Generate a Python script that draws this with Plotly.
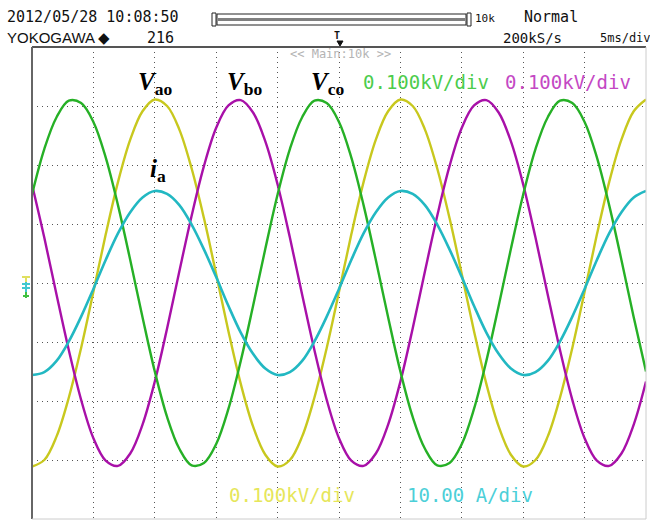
import plotly.graph_objects as go

# time axis (ms), 5 ms/div, 10 div
t_ms = list(range(0, 51))

# phase voltages (V), 0.100 kV/div
v_ao = [-311, -300, -260, -194, -110, -15, 82, 171, 243, 291, 311, 300, 260, 194, 110, 15, -82, -171, -243, -291,
        -311, -300, -260, -194, -110, -15, 82, 171, 243, 291, 311, 300, 260, 194, 110, 15, -82, -171, -243, -291,
        -311, -300, -260, -194, -110, -15, 82, 171, 243, 291, 311]
v_bo = [167, 77, -20, -114, -198, -263, -301, -310, -289, -240, -167, -77, 20, 114, 198, 263, 301, 310, 289, 240,
        167, 77, -20, -114, -198, -263, -301, -310, -289, -240, -167, -77, 20, 114, 198, 263, 301, 310, 289, 240,
        167, 77, -20, -114, -198, -263, -301, -310, -289, -240, -167]
v_co = [150, 227, 281, 309, 305, 273, 213, 132, 39, -58, -150, -227, -281, -309, -305, -273, -213, -132, -39, 58,
        150, 227, 281, 309, 305, 273, 213, 132, 39, -58, -150, -227, -281, -309, -305, -273, -213, -132, -39, 58,
        150, 227, 281, 309, 305, 273, 213, 132, 39, -58, -150]
# phase current (A), 10.00 A/div
i_a = [-15.6, -15.1, -13.2, -9.9, -5.7, -1.0, 3.9, 8.4, 12.0, 14.5, 15.6, 15.1, 13.2, 9.9, 5.7, 1.0, -3.9, -8.4, -12.0, -14.5,
       -15.6, -15.1, -13.2, -9.9, -5.7, -1.0, 3.9, 8.4, 12.0, 14.5, 15.6, 15.1, 13.2, 9.9, 5.7, 1.0, -3.9, -8.4, -12.0, -14.5,
       -15.6, -15.1, -13.2, -9.9, -5.7, -1.0, 3.9, 8.4, 12.0, 14.5, 15.6]

W, H = 650, 521
ML, MR, MT, MB = 32, 4, 47, 2
PW, PH = W - ML - MR, H - MT - MB


def px(x):
    return (x - ML) / PW


def py(y):
    return (H - MB - y) / PH


YEL, MAG, GRN, CYN = "#c8c81e", "#a810a8", "#26b026", "#22b8c2"

fig = go.Figure()
fig.add_trace(go.Scatter(x=t_ms, y=v_ao, mode="lines", line=dict(color=YEL, width=2.4, shape="spline"), yaxis="y"))
fig.add_trace(go.Scatter(x=t_ms, y=v_bo, mode="lines", line=dict(color=MAG, width=2.4, shape="spline"), yaxis="y"))
fig.add_trace(go.Scatter(x=t_ms, y=v_co, mode="lines", line=dict(color=GRN, width=2.4, shape="spline"), yaxis="y"))
fig.add_trace(go.Scatter(x=t_ms, y=i_a, mode="lines", line=dict(color=CYN, width=2.6, shape="spline"), yaxis="y2"))

grid = dict(showgrid=True, gridcolor="#555555", gridwidth=1.4, griddash="1px,4px",
            zeroline=False, showticklabels=False, ticks="", showline=False)

fig.update_layout(
    width=W, height=H,
    margin=dict(l=ML, r=MR, t=MT, b=MB),
    paper_bgcolor="white", plot_bgcolor="white",
    showlegend=False,
    xaxis=dict(range=[0, 50], dtick=5, **grid),
    yaxis=dict(range=[-400, 400], dtick=100, **grid),
    yaxis2=dict(range=[-40, 40], overlaying="y", showgrid=False, zeroline=False,
                showticklabels=False, ticks="", visible=False),
)

mono = "DejaVu Sans Mono"
ann = []


def text(x, y, s, size, color="#111111", family=mono, xanchor="center"):
    ann.append(dict(x=px(x), y=py(y), xref="paper", yref="paper", text=s, showarrow=False,
                    xanchor=xanchor, yanchor="middle", font=dict(family=family, size=size, color=color)))


# header
text(5, 17, "2012/05/28 10:08:50", 15, xanchor="left")
text(5, 38, "YOKOGAWA \u25c6", 15, family="Liberation Sans", xanchor="left")
text(160, 38, "216", 15)
text(473, 19, "10k", 11, xanchor="left")
text(551, 17, "Normal", 15)
text(532, 38, "200kS/s", 14)
text(598, 38, "5ms/div", 12, xanchor="left")
text(337, 35, "<b>T</b>", 10)
text(340, 54, "&lt;&lt; Main:10k &gt;&gt;", 12, color="#b4b4b4")

# channel scale labels
text(426, 82, "0.100kV/div", 19, color="#4ccc4c")
text(568, 82, "0.100kV/div", 19, color="#c448c4")
text(292, 495, "0.100kV/div", 19, color="#e6e65a")
text(470, 495, "10.00 A/div", 19, color="#4ccfd8")

# waveform labels
serif = "Liberation Serif"
text(155, 83, "<b><i>V</i></b><sub><b>ao</b></sub>", 25, color="#000000", family=serif)
text(244, 83, "<b><i>V</i></b><sub><b>bo</b></sub>", 25, color="#000000", family=serif)
text(327, 83, "<b><i>V</i></b><sub><b>co</b></sub>", 25, color="#000000", family=serif)
text(158, 170, "<b><i>i</i></b><sub><b>a</b></sub>", 25, color="#000000", family=serif)

fig.update_layout(annotations=ann)

shapes = []


def line(x0, y0, x1, y1, color, width=1):
    shapes.append(dict(type="line", xref="paper", yref="paper", x0=px(x0), y0=py(y0), x1=px(x1), y1=py(y1),
                       line=dict(color=color, width=width)))


def rect(x0, y0, x1, y1, color, width=1, fill="rgba(0,0,0,0)"):
    shapes.append(dict(type="rect", xref="paper", yref="paper", x0=px(x0), y0=py(y0), x1=px(x1), y1=py(y1),
                       line=dict(color=color, width=width), fillcolor=fill))


# frame
line(32, 47, 646, 47, "#555555", 2)
line(32, 47, 32, 519, "#666666", 2)
line(646, 47, 646, 519, "#cccccc", 1)
line(32, 519, 646, 519, "#cccccc", 1)

# record-length bar
rect(212, 13, 216, 26, "#222222", 1)
rect(467, 13, 471, 26, "#222222", 1)
rect(217, 14, 466, 25, "#222222", 1)
line(218, 19.5, 465, 19.5, "#808080", 3)
# trigger arrow
shapes.append(dict(type="path", xref="paper", yref="paper",
                   path=f"M {px(337)} {py(41)} L {px(343)} {py(41)} L {px(340)} {py(46)} Z",
                   fillcolor="#111111", line=dict(color="#111111", width=1)))

# ground markers on left
line(22, 277, 30, 277, "#e0e060", 2)
line(26, 277, 26, 282, "#e0e060", 2)
line(22, 284, 30, 284, "#40c8d0", 2)
line(22, 288, 30, 288, "#40c8d0", 2)
line(26, 282, 26, 292, "#40c8d0", 2)
line(23, 296, 29, 296, "#40c040", 2)
line(26, 292, 26, 298, "#40c040", 2)

fig.update_layout(shapes=shapes)

fig.write_html("out.html", config={"displayModeBar": False},
               post_script="document.body.style.margin='0';document.body.style.overflow='hidden';")
